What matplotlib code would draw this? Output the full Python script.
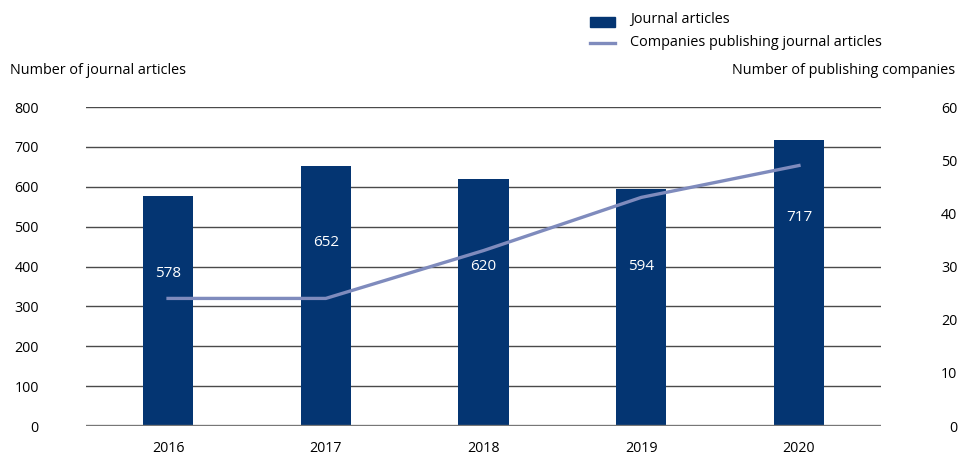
import numpy as np
import matplotlib.pyplot as plt

plt.rcParams['font.family'] = ['Open Sans', 'DejaVu Sans']

years = ['2016', '2017', '2018', '2019', '2020']
articles = [578, 652, 620, 594, 717]
companies = [24, 24, 33, 43, 49]
label_y = [383, 459, 399, 399, 522]

bar_col = '#043572'
line_col = '#7f8bbd'

fig = plt.figure(figsize=(9.58, 4.57), dpi=100)
ax = fig.add_axes([0.0898, 0.0678, 0.8298, 0.698])
x = np.arange(len(years))

for v in range(100, 900, 100):
    ax.axhline(v, color='#4a4a4a', lw=1.0, zorder=1)
ax.axhline(0, color='#777777', lw=2.4, zorder=4)

ax.bar(x, articles, width=0.32, color=bar_col, zorder=2)
for i, v in enumerate(articles):
    ax.text(x[i], label_y[i], str(v), ha='center', va='center',
            color='white', fontsize=11, zorder=5)

ax.set_xlim(-0.52, 4.52)
ax.set_ylim(0, 800)
ax.set_yticks(range(0, 900, 100))
ax.set_xticks(x)
ax.set_xticklabels(years)
ax.tick_params(axis='y', length=0, pad=34, labelsize=10.3)
ax.tick_params(axis='x', length=0, pad=11, labelsize=10.3)
for s in ax.spines.values():
    s.set_visible(False)

ax2 = ax.twinx()
ax2.plot(x, companies, color=line_col, lw=2.4, zorder=3)
ax2.set_ylim(0, 60)
ax2.set_yticks(range(0, 70, 10))
ax2.tick_params(axis='y', length=0, pad=55, labelsize=10.3)
for lbl in ax2.get_yticklabels():
    lbl.set_horizontalalignment('right')
for s in ax2.spines.values():
    s.set_visible(False)

fig.text(10 / 958, 1 - 70 / 457, 'Number of journal articles', fontsize=10.4, va='center', ha='left')
fig.text(955 / 958, 1 - 70 / 457, 'Number of publishing companies', fontsize=10.4, va='center', ha='right')

# legend
fig.patches.append(plt.Rectangle((590 / 958, 1 - 27 / 457), 25 / 958, 10 / 457,
                                 transform=fig.transFigure, color=bar_col))
fig.lines.append(plt.Line2D([590 / 958, 615 / 958], [1 - 43 / 457, 1 - 43 / 457],
                            transform=fig.transFigure, color=line_col, lw=2.4))
fig.text(630 / 958, 1 - 19 / 457, 'Journal articles', fontsize=10.4, va='center')
fig.text(630 / 958, 1 - 42 / 457, 'Companies publishing journal articles', fontsize=10.4, va='center')

fig.savefig('out.png', dpi=100)
